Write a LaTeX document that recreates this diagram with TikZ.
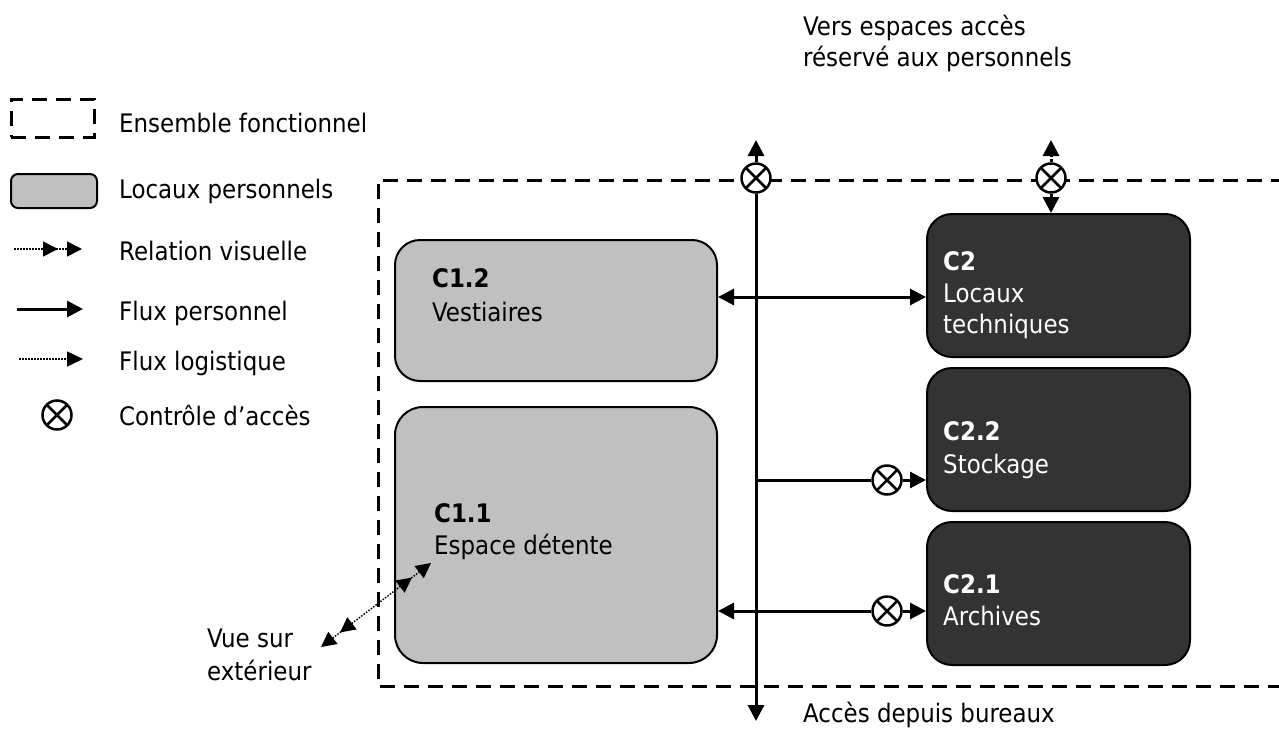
\documentclass[tikz,border=0pt]{standalone}
\usepackage{fontspec}
\setmainfont{DejaVu Sans Condensed}[BoldFont={DejaVu Sans Condensed Bold}]
\usetikzlibrary{arrows.meta}
\definecolor{roomgray}{HTML}{C0C0C0}
\definecolor{techdark}{HTML}{333333}

\tikzset{
  txt/.style={anchor=base west, inner sep=0pt, font=\fontsize{25.5}{30}\selectfont},
  boldtxt/.style={anchor=base west, inner sep=0pt, font=\fontsize{25.5}{30}\selectfont\bfseries},
  wtxt/.style={txt, text=white},
  wboldtxt/.style={boldtxt, text=white},
  room/.style={draw=black, line width=2pt, fill=roomgray, rounded corners=25pt,
    inner sep=0pt, minimum width=322pt},
  tech/.style={room, fill=techdark, minimum width=263pt, minimum height=143pt},
  frame/.style={line width=3pt, dash pattern=on 15pt off 9pt},
  ctl/.style={circle, draw, line width=2.5pt, fill=white, minimum size=29pt, inner sep=0pt,
    path picture={\draw[line width=2.5pt]
      (path picture bounding box.north west) -- (path picture bounding box.south east)
      (path picture bounding box.north east) -- (path picture bounding box.south west);}},
  flow/.style={line width=3pt, -{Triangle[length=16pt,width=16pt]}},
  bothflow/.style={line width=3pt, {Triangle[length=16pt,width=16pt]}-{Triangle[length=16pt,width=16pt]}},
  plainflow/.style={line width=3pt},
  logi/.style={line width=3pt, dash pattern=on 3pt off 2.5pt, -{Triangle[length=16pt,width=16pt]}},
  thinlogi/.style={line width=1.5pt, dash pattern=on 1.5pt off 1.5pt, -{Triangle[length=16pt,width=15pt]}},
  vis/.style={line width=1.5pt, dash pattern=on 1.5pt off 1.5pt,
    -{Triangle[length=15pt,width=15pt,sep=9pt] Triangle[length=15pt,width=15pt]}},
  bothvis/.style={line width=1.5pt, dash pattern=on 1.5pt off 1.5pt,
    {Triangle[length=15pt,width=15pt] Triangle[length=15pt,width=15pt,sep=9pt]}-{Triangle[length=15pt,width=15pt,sep=9pt] Triangle[length=15pt,width=15pt]}},
}

\begin{document}
\begin{tikzpicture}[x=1pt, y=-1pt]
\clip (0,0) rectangle (1279,728);
\fill[white] (0,0) rectangle (1279,728);

% ---------- legend ----------
\node[draw, frame, minimum width=83pt, minimum height=38pt, inner sep=0pt] (lgframe) at (52.5,118) {};
\node[room, minimum width=86pt, minimum height=34pt, rounded corners=7pt] (lgroom) at (54,191) {};
\coordinate (lgvisA) at (14,249);  \coordinate (lgvisB) at (82,249);
\draw[vis] (lgvisA) -- (lgvisB);
\coordinate (lgperA) at (17,309);  \coordinate (lgperB) at (83,309);
\draw[flow] (lgperA) -- (lgperB);
\coordinate (lglogA) at (19,359);  \coordinate (lglogB) at (83,359);
\draw[thinlogi] (lglogA) -- (lglogB);
\node[ctl] (lgctl) at (57,415) {};

\node[txt] (lgt1) at (119,132) {Ensemble fonctionnel};
\node[txt] (lgt2) at (119,198) {Locaux personnels};
\node[txt] (lgt3) at (119,260) {Relation visuelle};
\node[txt] (lgt4) at (119,320) {Flux personnel};
\node[txt] (lgt5) at (119,370) {Flux logistique};
\node[txt] (lgt6) at (119,425) {Contrôle d’accès};

% ---------- functional zone ----------
\draw[frame] (1310,180) -- (378,180) -- (378,686) -- (1310,686);

% rooms
\node[room, minimum height=141pt] (c12) at (556,310.5) {};
\node[room, minimum height=256pt, rounded corners=28pt] (c11) at (556,535) {};
\node[tech] (c2)  at (1058.5,285.5) {};
\node[tech] (c22) at (1058.5,439.5) {};
\node[tech] (c21) at (1058.5,593.5) {};

\node[boldtxt] (c12a) at (432,287) {C1.2};
\node[txt]     (c12b) at (432,321) {Vestiaires};
\node[boldtxt] (c11a) at (434,522) {C1.1};
\node[txt]     (c11b) at (434,554) {Espace détente};
\node[wboldtxt] (c2a) at (943,270) {C2};
\node[wtxt]     (c2b) at (943,302) {Locaux};
\node[wtxt]     (c2c) at (943,333) {techniques};
\node[wboldtxt] (c22a) at (943,440) {C2.2};
\node[wtxt]     (c22b) at (943,473) {Stockage};
\node[wboldtxt] (c21a) at (943,593) {C2.1};
\node[wtxt]     (c21b) at (943,625) {Archives};

% access controls
\node[ctl] (xmain) at (756,178) {};
\node[ctl] (xtech) at (1051,178) {};
\node[ctl] (xsto)  at (887,480) {};
\node[ctl] (xarc)  at (887,611) {};

% main staff circulation
\coordinate (vtop)  at (756,140);
\coordinate (vbot)  at (756,721);
\coordinate (ttop)  at (1051,140);
\coordinate (hrow)  at (0,297);
\draw[flow] (xmain.north) -- (vtop);
\draw[flow] (xmain.south) -- (vbot);
\draw[bothflow] (c12.east |- hrow) -- (c2.west |- hrow);
\draw[plainflow] (xmain.south |- xsto.west) -- (xsto.west);
\draw[flow] (xsto.east) -- (c22.west |- xsto.east);
\draw[flow] (xarc.west) -- (c11.east |- xarc.west);
\draw[flow] (xarc.east) -- (c21.west |- xarc.east);

% logistics towards the technical rooms
\draw[logi] (xtech.north) -- (ttop);
\draw[logi] (xtech.south) -- (c2.north -| xtech.south);

% view to the outside
\coordinate (viewout) at (321,647);
\coordinate (viewin)  at (431,563);
\draw[bothvis] (viewout) -- (viewin);

% outside labels
\node[txt] (vers1) at (803,35) {Vers espaces accès};
\node[txt] (vers2) at (803,66) {réservé aux personnels};
\node[txt] (vue1) at (207,647) {Vue sur};
\node[txt] (vue2) at (207,680) {extérieur};
\node[txt] (bur) at (803,722) {Accès depuis bureaux};
\end{tikzpicture}
\end{document}
